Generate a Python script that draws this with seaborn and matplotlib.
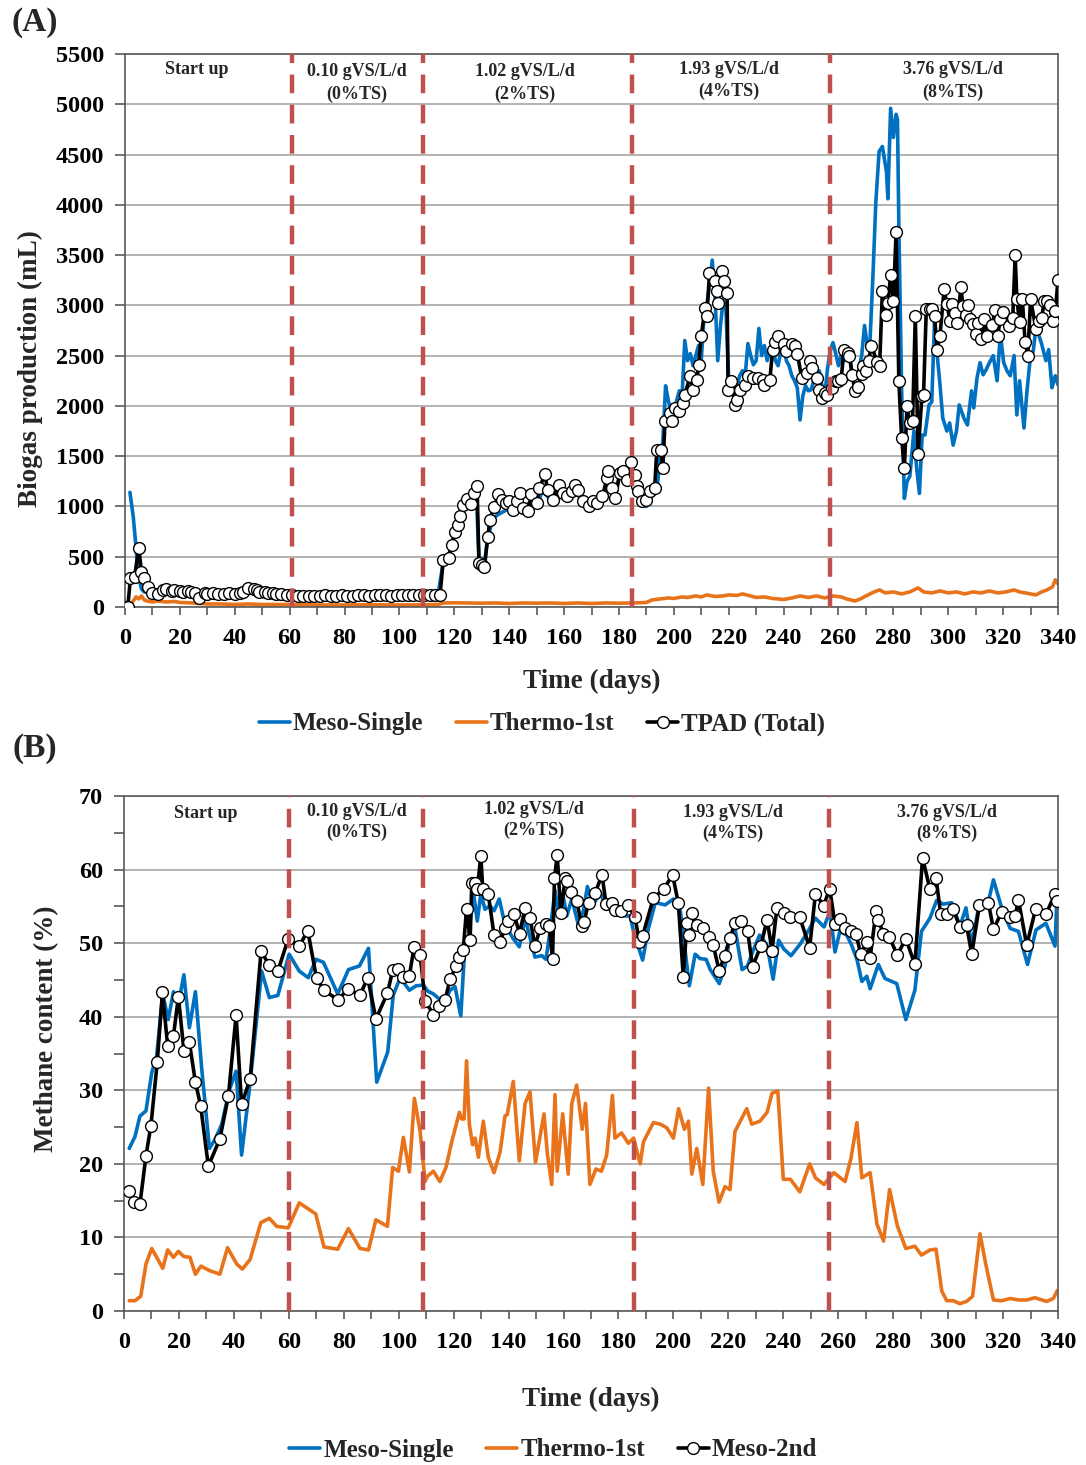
import numpy as np
import pandas as pd
import matplotlib
matplotlib.use("Agg")
import matplotlib.pyplot as plt
import seaborn as sns
from matplotlib.ticker import MultipleLocator

# ---------------- DATA ----------------
phase_labels = ["Start up", "0.10 gVS/L/d", "1.02 gVS/L/d", "1.93 gVS/L/d", "3.76 gVS/L/d"]
phase_ts = ["", "(0%TS)", "(2%TS)", "(4%TS)", "(8%TS)"]
a_bounds = [61, 108.6, 184.8, 256.9]
b_bounds = [60, 108.8, 185.6, 256.6]

# Panel A: biogas production (mL)
a_tpad = [(0,0),(1,0),(2,290),(3.5,300),(5,590),(6,350),(7,290),(8.5,200),(10,140),(12,130),(14,170),(15,177),
 (17,155),(18,170),(20,164),(21,150),(23,164),(24,150),(25.5,137),(27,90),(29,144),(30,130),(32,137),(34,125),
 (36,130),(38,140),(40,130),(42,137),(43,150),(45,187),(47,177),(48,165),(49,154),(51,150),(52,144),(54,135),
 (55,130),(57,125),(59,120),(61,115),(63,110),(65,112),(67,108),(69,112),(71,110),(73,115),(75,110),(77,112),
 (79,115),(81,112),(83,110),(85,115),(87,115),(89,112),(91,118),(93,120),(95,115),(97,112),(99,118),(101,115),
 (103,120),(105,118),(107,115),(109,120),(111,115),(113,118),(114.8,120),(116,470),(118,490),(119,620),
 (120.3,750),(121.3,820),(122,910),(123,1010),(124.5,1070),(126,1020),(127,1130),(128.3,1200),(129,440),
 (130,420),(131,400),(132.2,700),(133,870),(134.5,990),(136,1120),(137.4,1060),(139,1030),(140,1050),
 (141.5,960),(143,1050),(144,1130),(145,980),(147,950),(148,1120),(150,1030),(151,1180),(153,1320),(154,1160),
 (156,1060),(158,1210),(159.6,1130),(161,1100),(163,1150),(164,1210),(165,1160),(167,1050),(169,1000),
 (170.6,1050),(172,1030),(174,1100),(175.6,1280),(176,1350),(177.5,1180),(178.6,1080),(180.4,1330),
 (181.5,1350),(183,1260),(184.4,1440),(185.8,1310),(186.5,1200),(187,1150),(188.4,1050),(190,1060),
 (191.3,1150),(193,1180),(193.8,1560),(195.3,1560),(196,1380),(196.8,1850),(198.6,1930),(199.3,1850),
 (200.4,1980),(202,1950),(203.4,2030),(204,2110),(206,2300),(207,2160),(208.5,2260),(209,2410),(210,2700),
 (211.4,2970),(212,2890),(213,3320),(215,3240),(215.7,3140),(216,3020),(217.6,3340),(218.3,3240),
 (219.4,3120),(219.8,2160),(221,2250),(222.3,2010),(223,2060),(224,2160),(226,2210),(227,2300),(229,2280),
 (230.7,2280),(232.5,2260),(233,2210),(235,2260),(236,2560),(237,2640),(238,2700),(240,2620),(241,2550),
 (243,2620),(244,2600),(245,2520),(246.6,2280),(248.5,2330),(249.6,2450),(250.4,2380),(252,2280),(253,2160),
 (254,2080),(255,2130),(256,2110),(257.6,2180),(259,2250),(260,2250),(261,2270),(262,2560),(263.5,2530),
 (264,2500),(265,2310),(266,2150),(267,2190),(268.5,2320),(269,2400),(270,2350),(271,2450),(272,2600),
 (274,2440),(275,2400),(276,3140),(277.3,2900),(278,3020),(279,3300),(280,3040),(281,3730),(282,2250),
 (283,1680),(284,1380),(285,2000),(286,1830),(287,1850),(288,2890),(289,1520),(290.4,2100),(291,2110),
 (292,2960),(293.3,2960),(294,2960),(295,2890),(296,2560),(297,2700),(298.5,3160),(299.5,3010),(300.7,2840),
 (301.3,3010),(302.5,2920),(303.3,2820),(304.6,3180),(305.4,2990),(306.5,2900),(307.2,3000),(308,2860),
 (309,2810),(310,2720),(311,2820),(312,2670),(313,2860),(314,2700),(316,2800),(317,2950),(318,2700),
 (319,2860),(320,2930),(322,2790),(323.5,2870),(324.4,3500),(325,3060),(326,2830),(327,3060),(328,2640),
 (329,2500),(330,3060),(332,2760),(333,2840),(334,2870),(335,3040),(336,3040),(337,3000),(338,2840),
 (339,2940),(340,3250)]

a_meso = [(1.8,1140),(3,900),(4,600),(5,300),(6,180),(7,150),(8,150),(10,140),(15,160),(20,155),(25,135),
 (27,110),(30,130),(35,125),(40,130),(45,170),(50,150),(55,125),(60,115),(70,108),(80,110),(90,112),(100,113),
 (110,115),(114,115),(116,450),(118,520),(120,700),(122,900),(124,1050),(126,1080),(128,1150),(129,460),
 (131,430),(132,650),(134,880),(136,920),(138,950),(140,980),(142,990),(144,1050),(146,1000),(148,1060),
 (150,1000),(152,1150),(154,1100),(156,1050),(158,1150),(160,1080),(162,1100),(164,1150),(166,1080),
 (168,1020),(170,1040),(172,1020),(174,1080),(176,1250),(178,1120),(180,1280),(182,1300),(184,1250),
 (186,1150),(188,1050),(190,1000),(192,1100),(194,1200),(195,1500),(196,1650),(197,2200),(198,2050),
 (199,1950),(200,1900),(201,2050),(202,2150),(203,2100),(204,2650),(205,2450),(206,2520),(207,2400),
 (208,2500),(209,2600),(210,2450),(211,2900),(212,3000),(213,3200),(214,3450),(215,3100),(216,2450),
 (217,2800),(218,3050),(219,2950),(220,2250),(221,2150),(222,2100),(223,2200),(224,2300),(225,2350),
 (226,2300),(227,2620),(228,2500),(229,2410),(230,2450),(231,2770),(232,2500),(233,2600),(234,2450),
 (235,2550),(236,2600),(237,2450),(238,2400),(239,2550),(240,2620),(241,2450),(242,2400),(243,2300),
 (244,2250),(245,2180),(246,1860),(247,2100),(248,2200),(249,2150),(250,2160),(251,2250),(252,2300),
 (253,2350),(254,2200),(255,2100),(256,2370),(257,2550),(258,2630),(259,2520),(260,2400),(261,2500),
 (262,2450),(263,2550),(264,2500),(265,2310),(266,2270),(267,2300),(268.5,2510),(269.5,2800),(270.5,2600),
 (271.5,2650),(272.6,3320),(273.6,4020),(274.8,4530),(276,4580),(277.5,4330),(278,4060),(279,4960),
 (280,4670),(281,4900),(281.5,4850),(282,3790),(283,2180),(284,1080),(285,1250),(286,1300),(287.5,1750),
 (288.5,1380),(289.5,1130),(290.5,1710),(291.5,1710),(293,2010),(294,2040),(295,2850),(296,2500),(297,2210),
 (298,1880),(299.5,1750),(300.5,1830),(301.8,1610),(303,1750),(304,2010),(305.7,1880),(307,1810),
 (308.5,2150),(309.3,1980),(310.5,2280),(311.6,2430),(312.7,2310),(313.8,2360),(315,2430),(316.4,2500),
 (317.8,2250),(319,2720),(320.2,2430),(321.4,2350),(322.6,2300),(324,2500),(325,1910),(326,2250),
 (327.6,1780),(328.7,2150),(329.8,2450),(331,2550),(332,2790),(334,2620),(335.6,2450),(336.6,2560),
 (337.8,2180),(339,2300),(340,2210)]

a_thermo = [(0,0),(2,20),(3,60),(4,100),(5,80),(6,110),(7,70),(8,60),(10,50),(12,60),(15,50),(18,55),(20,45),
 (25,40),(30,30),(35,30),(40,25),(45,30),(50,25),(60,25),(70,20),(80,20),(90,22),(100,20),(110,22),(114,25),
 (116,40),(120,42),(125,40),(130,38),(135,40),(140,35),(145,40),(150,38),(155,40),(160,35),(165,40),(170,35),
 (175,40),(180,38),(185,40),(190,45),(192,70),(195,80),(198,90),(200,85),(203,100),(205,95),(208,110),
 (210,100),(212,120),(215,105),(218,110),(220,120),(223,115),(225,130),(228,110),(230,95),(233,100),(236,85),
 (240,75),(243,90),(246,110),(249,95),(252,110),(255,90),(258,110),(261,100),(263,80),(266,60),(268,80),
 (270,110),(273,150),(275,170),(277,140),(280,150),(283,130),(286,150),(289,190),(291,150),(294,140),
 (297,160),(300,140),(303,150),(306,130),(309,150),(312,140),(315,160),(318,140),(321,150),(324,170),
 (326,150),(328,140),(330,130),(332,120),(334,150),(336,170),(338,200),(339,270),(340,230)]

# Panel B: methane content (%)
b_meso2 = [(1.9,16.3),(3.6,14.8),(5.8,14.5),(8.0,21.1),(9.8,25.2),(12.1,33.8),(14.0,43.3),(15.9,36.0),
 (18.0,37.4),(19.8,42.7),(21.8,35.4),(23.8,36.5),(26.0,31.1),(27.9,27.9),(30.7,19.7),(34.9,23.4),(38.0,29.2),
 (40.8,40.2),(42.8,28.1),(45.9,31.5),(49.9,48.9),(52.9,47.0),(56.0,46.2),(59.8,50.6),(63.8,49.6),(66.9,51.7),
 (70.1,45.2),(72.9,43.6),(77.8,42.3),(81.7,43.8),(85.9,42.9),(88.7,45.3),(91.7,39.7),(95.9,43.2),(97.8,46.3),
 (99.9,46.5),(101.7,45.4),(103.9,45.6),(105.6,49.5),(107.8,48.4),(109.6,42.2),(112.6,40.3),(114.8,41.4),
 (116.9,42.3),(118.7,45.1),(120.9,46.9),(122.1,48.1),(123.5,49.1),(124.7,54.7),(126.0,50.4),(126.6,58.2),
 (127.8,58.2),(128.6,57.3),(129.9,61.9),(130.6,57.3),(132.6,56.7),(134.7,51.1),(136.9,50.2),(138.7,52.0),
 (139.9,53.0),(142.0,53.9),(144.0,51.3),(146.0,54.8),(147.8,53.4),(149.6,49.6),(151.5,52.0),(153.6,52.6),
 (154.8,52.3),(156.0,47.8),(156.7,58.8),(157.7,62.0),(159.0,54.1),(160.6,58.8),(161.2,58.5),(162.7,56.9),
 (164.8,55.7),(166.7,52.3),(167.5,52.9),(169.1,55.5),(171.5,56.8),(174.0,59.3),(175.5,55.3),(177.6,55.4),
 (178.7,54.5),(181.1,54.4),(183.6,55.2),(186.0,53.5),(187.6,50.2),(188.8,51.0),(192.7,56.1),(196.6,57.4),
 (199.7,59.3),(201.8,55.4),(203.6,45.4),(204.9,52.7),(205.8,51.1),(206.7,54.1),(208.5,52.5),(210.6,52.0),
 (212.8,50.9),(214.5,49.7),(216.7,46.2),(218.6,48.3),(220.6,50.7),(222.4,52.7),(224.5,53.0),(227.0,51.7),
 (228.8,46.8),(231.8,49.6),(234.1,53.2),(235.9,49.0),(237.7,54.8),(240.2,54.1),(242.6,53.5),(246.0,53.5),
 (249.6,49.4),(251.7,56.7),(254.7,55.1),(256.9,57.4),(258.8,52.6),(260.6,53.3),(262.5,52.0),(264.7,51.7),
 (266.5,51.2),(268.2,48.5),(270.4,50.2),(271.6,48.0),(273.8,54.4),(274.6,53.2),(276.4,51.2),(278.6,50.8),
 (281.5,48.4),(284.6,50.6),(287.9,47.1),(290.7,61.6),(293.4,57.3),(295.6,58.9),(297.3,53.9),(299.5,54.0),
 (301.7,54.7),(304.3,52.2),(306.7,52.5),(308.6,48.5),(311.4,55.2),(314.7,55.4),(316.5,51.9),(319.5,54.2),
 (322.6,53.5),(324.4,53.7),(325.6,55.9),(328.6,49.7),(331.9,54.7),(335.6,53.9),(338.9,56.7),(339.5,55.7)]

b_meso = [(1.9,22.1),(4.0,23.7),(5.8,26.5),(8.0,27.2),(10.1,32.4),(11.9,34.7),(14.1,43.1),(16.1,39.6),
 (18.0,43.4),(19.8,41.7),(21.8,45.7),(23.8,38.5),(26.0,43.4),(28.3,32.9),(31.1,22.1),(33.1,23.3),(35.6,25.4),
 (38.3,30.0),(40.8,32.6),(42.8,21.2),(45.9,31.0),(50.1,46.2),(52.9,42.6),(56.0,42.9),(60.1,48.5),(63.8,46.2),
 (67.1,45.3),(69.9,47.8),(72.6,47.4),(77.8,43.1),(81.7,46.4),(85.7,46.9),(89.0,49.3),(92.0,31.1),(96.0,35.2),
 (98.0,42.9),(100.5,45.3),(103.9,43.6),(106.3,44.2),(109.0,44.3),(110.5,43.5),(112.6,43.1),(114.5,42.5),
 (116.9,42.2),(118.7,43.6),(120.5,44.1),(122.6,40.1),(123.9,48.5),(125.4,50.9),(127.2,56.9),(128.6,53.0),
 (129.9,56.7),(131.4,54.6),(133.2,55.1),(134.7,54.4),(136.6,56.0),(138.7,52.5),(141.7,50.6),(143.9,49.5),
 (146.0,53.4),(149.6,48.1),(152.1,48.3),(153.6,47.8),(155.1,51.6),(156.9,57.2),(158.1,54.1),(159.7,56.7),
 (161.2,53.7),(163.0,56.0),(165.4,52.5),(167.2,54.4),(168.7,57.7),(170.6,55.1),(173.4,56.9),(175.8,54.6),
 (178.2,56.0),(180.6,54.4),(182.4,53.7),(184.2,53.7),(185.7,51.3),(188.8,47.7),(190.9,52.0),(193.4,55.5),
 (197.0,55.2),(200.0,56.0),(202.5,54.4),(205.8,44.2),(207.9,48.5),(209.7,47.9),(211.9,47.8),(213.4,46.4),
 (216.7,44.5),(218.8,46.9),(220.6,50.9),(222.4,52.0),(225.0,46.4),(227.0,46.9),(228.8,48.8),(231.4,51.1),
 (234.1,49.7),(236.3,45.1),(238.3,50.4),(240.2,49.2),(242.8,48.3),(246.2,49.9),(249.3,51.8),(251.7,53.4),
 (254.8,52.2),(257.0,54.3),(258.8,48.8),(260.6,51.6),(263.1,51.1),(264.9,49.7),(266.8,47.8),(268.6,44.8),
 (270.4,45.5),(271.6,43.8),(274.6,47.1),(277.0,45.2),(281.3,44.5),(284.6,39.6),(287.9,43.6),(290.3,51.6),
 (293.4,53.4),(295.8,55.8),(298.2,55.3),(301.3,55.5),(304.3,52.3),(306.5,54.8),(308.6,49.7),(311.4,55.5),
 (314.1,54.8),(316.5,58.6),(319.5,54.8),(322.6,52.0),(325.6,51.6),(328.9,47.1),(332.0,51.8),(335.6,52.7),
 (338.9,49.6),(339.5,55.1)]

b_thermo = [(1.9,1.4),(4.0,1.4),(6.1,2.0),(8.0,6.4),(10.1,8.5),(11.9,7.3),(14.1,5.8),(15.9,8.3),(18.0,7.3),
 (19.8,8.1),(21.8,7.4),(24.0,7.3),(26.0,5.0),(28.0,6.1),(31.1,5.5),(34.9,5.0),(37.7,8.6),(41.0,6.4),(43.1,5.7),
 (45.9,7.0),(49.8,12.0),(52.9,12.6),(55.6,11.5),(59.8,11.3),(63.8,14.7),(69.8,13.2),(72.8,8.7),(77.8,8.4),
 (81.7,11.2),(85.9,8.5),(89.0,8.3),(91.7,12.4),(95.9,11.5),(97.8,19.5),(99.9,19.0),(101.7,23.6),(103.9,18.9),
 (105.7,28.9),(107.8,24.4),(109.6,17.6),(110.4,18.3),(112.6,19.0),(115.0,17.6),(117.2,19.5),(119.3,23.0),
 (122.1,27.0),(122.9,26.1),(123.8,26.1),(124.7,34.0),(125.7,25.4),(126.9,22.6),(127.8,23.5),(129.0,20.9),
 (130.8,25.8),(132.6,20.9),(134.7,18.8),(136.9,21.6),(138.7,26.5),(139.5,26.7),(141.7,31.2),(143.9,20.4),
 (146.0,28.2),(147.8,29.8),(149.8,20.2),(152.9,26.8),(154.1,21.4),(155.7,17.2),(156.9,29.4),(157.7,19.0),
 (159.7,26.8),(161.7,18.6),(163.0,28.2),(164.8,30.7),(166.8,24.7),(168.0,28.2),(169.6,17.2),(171.8,19.3),
 (173.8,19.0),(175.7,21.2),(177.8,29.3),(178.7,23.5),(181.1,24.2),(183.6,22.8),(185.5,23.5),(187.9,20.0),
 (189.1,23.0),(192.7,25.6),(195.2,25.4),(197.6,24.9),(200.0,23.5),(201.9,27.5),(204.0,24.7),(205.5,25.8),
 (206.7,18.6),(208.5,22.1),(210.7,17.2),(212.8,30.3),(214.5,19.0),(216.6,14.8),(218.8,16.9),(220.6,16.5),
 (222.4,24.4),(226.7,27.5),(228.5,25.4),(231.5,25.8),(234.1,27.0),(235.9,29.6),(238.0,29.9),(240.0,17.9),
 (242.6,17.9),(246.0,16.2),(249.6,20.0),(251.7,18.1),(254.8,17.2),(258.4,18.8),(262.5,17.6),(264.6,20.7),
 (266.8,25.6),(268.6,18.1),(271.6,18.8),(274.1,11.8),(276.5,9.5),(278.7,16.5),(281.5,11.6),(284.6,8.5),
 (287.9,8.8),(290.3,7.6),(293.4,8.3),(295.6,8.4),(297.7,2.7),(299.5,1.4),(301.9,1.4),(304.3,1.0),(306.7,1.3),
 (308.9,2.0),(311.6,10.5),(313.8,6.2),(316.5,1.5),(319.5,1.4),(322.6,1.7),(325.6,1.5),(328.6,1.5),(331.6,1.8),
 (335.9,1.3),(338.3,1.7),(339.8,2.8)]

# ---------------- STYLE ----------------
sns.set_theme(style="white")
plt.rcParams['font.family'] = ['Liberation Serif', 'DejaVu Serif']
plt.rcParams['font.weight'] = 'bold'
plt.rcParams['axes.labelweight'] = 'bold'

BLUE = "#0070C0"
ORANGE = "#E8731A"
RED = "#C0504D"
GRID = "#A6A6A6"
SPINE = "#595959"

W, H = 1086, 1465
fig = plt.figure(figsize=(W / 100, H / 100), dpi=100)

def fx(px):
    return px / W

def fy(py):
    return 1 - py / H

axA = fig.add_axes([fx(125), fy(607), fx(1058) - fx(125), fy(54) - fy(607)])
axB = fig.add_axes([fx(124), fy(1311), fx(1058) - fx(124), fy(796) - fy(1311)])

def to_df(pairs):
    return pd.DataFrame(pairs, columns=["day", "val"])

def draw(ax, meso, thermo, black, black_label, bounds):
    sns.lineplot(data=to_df(meso), x="day", y="val", ax=ax, color=BLUE, lw=2.6,
                 sort=False, estimator=None, label="Meso-Single", zorder=2)
    sns.lineplot(data=to_df(thermo), x="day", y="val", ax=ax, color=ORANGE, lw=2.6,
                 sort=False, estimator=None, label="Thermo-1st", zorder=2)
    sns.lineplot(data=to_df(black), x="day", y="val", ax=ax, color="black", lw=2.6,
                 sort=False, estimator=None, label=black_label, zorder=3,
                 marker="o", markersize=8.5, markerfacecolor="white",
                 markeredgecolor="black", markeredgewidth=1.0)
    for b in bounds:
        ax.axvline(b, color=RED, lw=3.2, ls=(0, (4.2, 2.6)), zorder=6)
    ax.set_xlim(0, 340)
    ax.xaxis.set_major_locator(MultipleLocator(20))
    ax.xaxis.set_minor_locator(MultipleLocator(10))
    ax.grid(axis="y", color=GRID, lw=1.2, zorder=0)
    ax.grid(axis="x", visible=False)
    ax.set_axisbelow(True)
    for s in ax.spines.values():
        s.set_color(SPINE)
        s.set_linewidth(1.2)
    ax.tick_params(axis="both", which="both", direction="out", colors=SPINE,
                   labelcolor="black", labelsize=17.5)
    ax.tick_params(axis="x", which="both", length=6, width=1.2, pad=9, bottom=True)
    ax.tick_params(axis="y", which="both", length=7, width=1.2, pad=8, left=True)
    for lab in ax.get_xticklabels() + ax.get_yticklabels():
        lab.set_fontweight("bold")
    if ax.get_legend() is not None:
        ax.get_legend().remove()

draw(axA, a_meso, a_thermo, a_tpad, "TPAD (Total)", a_bounds)
draw(axB, b_meso, b_thermo, b_meso2, "Meso-2nd", b_bounds)

axA.set_ylim(0, 5500)
axA.yaxis.set_major_locator(MultipleLocator(500))
axB.set_ylim(0, 70)
axB.yaxis.set_major_locator(MultipleLocator(10))
axB.yaxis.set_minor_locator(MultipleLocator(5))
for ax in (axA, axB):
    for lab in ax.get_xticklabels() + ax.get_yticklabels():
        lab.set_fontweight("bold")

# axis labels
axA.set_xlabel("Time (days)", fontsize=19.5, fontweight="bold")
axA.set_ylabel("Biogas production (mL)", fontsize=19.5, fontweight="bold")
axB.set_xlabel("Time (days)", fontsize=19.5, fontweight="bold")
axB.set_ylabel("Methane content (%)", fontsize=19.5, fontweight="bold")
axA.xaxis.set_label_coords(0.5, -(681 - 607) / 553)
axA.xaxis.label.set_va("center")
axA.yaxis.set_label_coords((30 - 125) / 933, (607 - 369) / 553)
axA.yaxis.label.set_va("center")
axB.xaxis.set_label_coords(0.5, -(1399 - 1311) / 515)
axB.xaxis.label.set_va("center")
axB.yaxis.set_label_coords((47 - 124) / 934, (1311 - 1029) / 515)
axB.yaxis.label.set_va("center")

# phase annotations
def phase_text(positions):
    for (px, py1, py2), lab, ts in zip(positions, phase_labels, phase_ts):
        fig.text(fx(px), fy(py1), lab, ha="center", va="center", fontsize=13, fontweight="bold")
        if ts:
            fig.text(fx(px), fy(py2), ts, ha="center", va="center", fontsize=13, fontweight="bold")

phase_text([(197, 70, 0), (357, 72, 94), (525, 72, 94), (729, 69, 91), (953, 70, 92)])
phase_text([(206, 813, 0), (357, 811, 832), (534, 809, 830), (733, 812, 833), (947, 812, 833)])

# panel tags
fig.text(fx(35), fy(22), "(A)", ha="center", va="center", fontsize=24, fontweight="bold")
fig.text(fx(35), fy(748), "(B)", ha="center", va="center", fontsize=24, fontweight="bold")

# legends
for ax, cx, cy in ((axA, 542, 724), (axB, 553, 1450)):
    h, l = ax.get_legend_handles_labels()
    fig.legend(h, l, loc="center", bbox_to_anchor=(fx(cx), fy(cy)), ncol=3, frameon=False,
               handlelength=1.25, handletextpad=0.12, columnspacing=1.3,
               prop={"family": "Liberation Serif", "weight": "bold", "size": 18})

fig.savefig("out.png", dpi=100)
